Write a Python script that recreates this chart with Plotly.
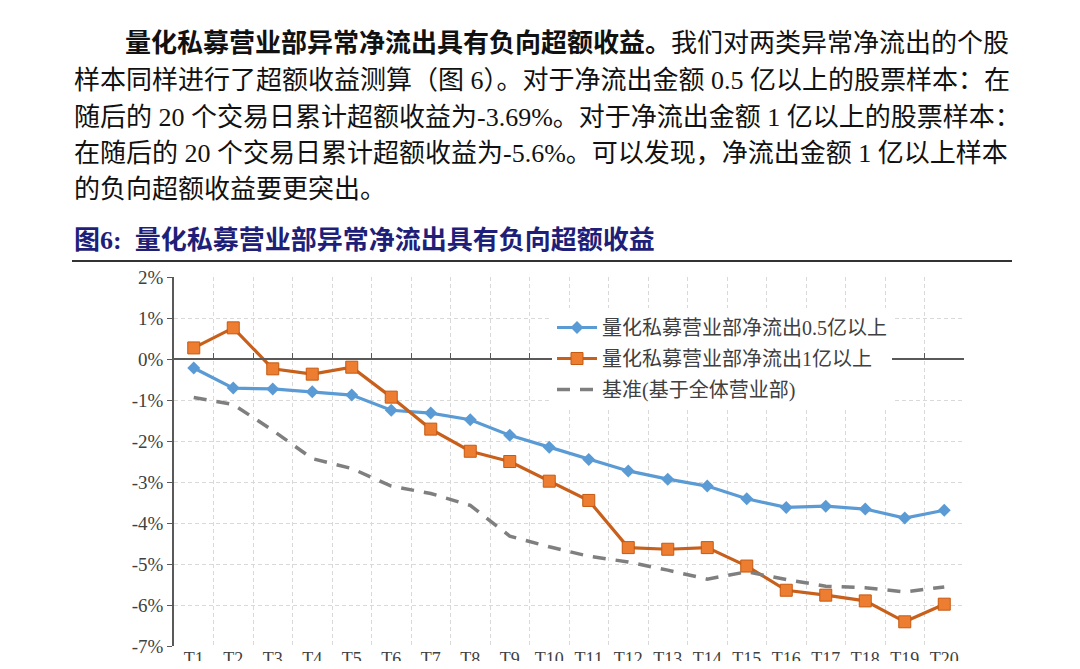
import plotly.graph_objects as go

# 数据：T1..T20 累计超额收益(%)
days = [f"T{i}" for i in range(1, 21)]
net_out_05 = [-0.22, -0.71, -0.73, -0.80, -0.88, -1.25, -1.32, -1.48, -1.86, -2.15,
              -2.45, -2.73, -2.93, -3.10, -3.41, -3.62, -3.59, -3.66, -3.88, -3.69]
net_out_1 = [0.27, 0.76, -0.24, -0.37, -0.20, -0.93, -1.71, -2.25, -2.50, -2.98,
             -3.45, -4.60, -4.64, -4.60, -5.05, -5.64, -5.76, -5.90, -6.41, -5.98]
benchmark = [-0.94, -1.11, -1.74, -2.43, -2.67, -3.10, -3.28, -3.57, -4.32, -4.58,
             -4.81, -4.95, -5.15, -5.37, -5.19, -5.38, -5.54, -5.58, -5.68, -5.56]
y_ticks = [2, 1, 0, -1, -2, -3, -4, -5, -6, -7]
y_tick_labels = ["2%", "1%", "0%", "-1%", "-2%", "-3%", "-4%", "-5%", "-6%", "-7%"]

names = ["量化私募营业部净流出0.5亿以上", "量化私募营业部净流出1亿以上", "基准(基于全体营业部)"]

paragraph = [
    "<b>量化私募营业部异常净流出具有负向超额收益。</b>我们对两类异常净流出的个股",
    "样本同样进行了超额收益测算（图 6）。对于净流出金额 0.5 亿以上的股票样本：在",
    "随后的 20 个交易日累计超额收益为-3.69%。对于净流出金额 1 亿以上的股票样本：",
    "在随后的 20 个交易日累计超额收益为-5.6%。可以发现，净流出金额 1 亿以上样本",
    "的负向超额收益要更突出。",
]
fig_title = "图6:  量化私募营业部异常净流出具有负向超额收益"

SERIF = "Liberation Serif, Noto Sans CJK SC"

# page has an 8px body margin, so the figure is a bit smaller than the window
OFF = 8
W, H = 1080 - 2 * OFF, 669 - 2 * OFF
PLOT_L, PLOT_R, PLOT_T, PLOT_B = 174, 964, 277, 646   # page pixels


def px_x(x):
    return (x - PLOT_L) / (PLOT_R - PLOT_L)


def px_y(y):
    return (PLOT_B - y) / (PLOT_B - PLOT_T)


fig = go.Figure()

fig.add_trace(go.Scatter(
    x=days, y=net_out_05, name=names[0], legendgroup="a", mode="lines+markers",
    line=dict(color="#5B9BD5", width=3.2),
    marker=dict(symbol="diamond", size=10, color="#5B9BD5"),
))
fig.add_trace(go.Scatter(
    x=days, y=net_out_1, name=names[1], legendgroup="b", mode="lines+markers",
    line=dict(color="#C8601C", width=3.2),
    marker=dict(symbol="square", size=12, color="#ED7D31",
                line=dict(color="#C55A11", width=1)),
))
fig.add_trace(go.Scatter(
    x=days, y=benchmark, name=names[2], legendgroup="c", mode="lines",
    line=dict(color="#7F7F7F", width=3.5, dash="13px,10px"),
))
# invisible trace so the zero-line axis gets the categories
fig.add_trace(go.Scatter(
    x=days, y=benchmark, xaxis="x2", mode="lines", line=dict(width=0),
    showlegend=False, hoverinfo="skip",
))

fig.update_layout(
    width=W, height=H,
    margin=dict(l=PLOT_L - OFF, r=OFF + W - PLOT_R, t=PLOT_T - OFF, b=OFF + H - PLOT_B),
    paper_bgcolor="white", plot_bgcolor="white",
    font=dict(family=SERIF, color="#404040"),
    showlegend=True,
    legend=dict(
        x=px_x(552), y=px_y(308), xanchor="left", yanchor="top",
        bgcolor="white", font=dict(size=20, family=SERIF, color="#404040"),
        tracegroupgap=2, itemwidth=40,
    ),
    xaxis=dict(
        type="category", range=[-0.5, 19.5], tickson="boundaries", automargin=False,
        showgrid=True, gridcolor="#D9D9D9", griddash="4px,3px", gridwidth=1,
        showline=False, ticks="", zeroline=False,
        tickfont=dict(size=18, family=SERIF, color="#404040"),
    ),
    xaxis2=dict(
        type="category", overlaying="x", anchor="free", position=7 / 9,
        range=[-0.5, 19.5], tickson="boundaries", showgrid=False, automargin=False,
        showline=True, linecolor="#595959", linewidth=1.5,
        ticks="inside", ticklen=5, tickcolor="#595959",
        showticklabels=False,
    ),
    yaxis=dict(
        range=[-7, 2], tickvals=y_ticks, ticktext=y_tick_labels, automargin=False,
        showgrid=True, gridcolor="#D9D9D9", griddash="4px,3px", gridwidth=1,
        showline=True, linecolor="#595959", linewidth=1.5,
        ticks="outside", ticklen=5, tickcolor="#595959", zeroline=False,
        tickfont=dict(size=19, family=SERIF, color="#404040"),
    ),
)

# 正文段落
line_y = [43, 80, 117, 153, 190]
line_x = [123, 72, 72, 72, 72]
for text, lx, ly in zip(paragraph, line_x, line_y):
    fig.add_annotation(
        text=text, xref="paper", yref="paper", x=px_x(lx), y=px_y(ly),
        xanchor="left", yanchor="middle", showarrow=False,
        font=dict(size=26, family=SERIF, color="#111111"),
    )

# 图标题
fig.add_annotation(
    text=f"<b>{fig_title}</b>", xref="paper", yref="paper",
    x=px_x(72), y=px_y(240), xanchor="left", yanchor="middle", showarrow=False,
    font=dict(size=26, family=SERIF, color="#1F1F7A"),
)
fig.add_shape(
    type="line", xref="paper", yref="paper",
    x0=px_x(72), x1=px_x(1012), y0=px_y(261), y1=px_y(261),
    line=dict(color="#333333", width=2),
)

fig.write_html("out.html")
